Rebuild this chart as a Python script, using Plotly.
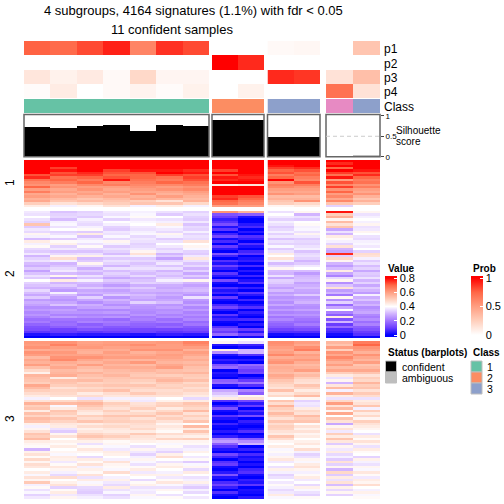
import plotly.graph_objects as go

# Annotation rows (11 samples)
p1 = [.76,.73,.82,.92,.62,.88,.82, 0,0, .03,.04, 0,.3]
p2 = [0,0,0,0,0,0,0, 1,.9, 0,0, 0,0]
p3 = [.13,.07,.11,.03,.2,.05,.05, 0,0, .9,.87, .15,.33]
p4 = [.02,.1,0,.03,.06,.02,.07, 0,.07, 0,0, .7,.15]
row_names = ["p1","p2","p3","p4"]
sample_class = [1,1,1,1,1,1,1, 2,2, 3,3, 4,3]
silhouette = [.74,.71,.76,.78,.64,.78,.76, .9,.9, .5,.5, 0,.06]
status = ["c"]*11 + ["a","a"]

# Signature values x100: one row per line, columns are the 13 sample positions
block1 = [
[80,80,80,80,80,80,80, 80,80, 80,80, 80,80],
[80,80,80,80,80,80,80, 80,80, 80,80, 76,80],
[80,80,80,80,80,80,80, 80,80, 78,80, 80,80],
[80,74,80,80,80,80,80, 80,80, 74,76, 70,80],
[80,78,80,74,78,78,76, 74,80, 70,72, 80,78],
[80,72,76,72,72,80,78, 80,80, 72,68, 74,72],
[72,74,74,70,70,74,72, 72,78, 66,70, 68,76],
[76,68,70,72,70,68,74, 78,76, 70,66, 78,70],
[68,70,66,78,68,66,72, 76,78, 80,64, 60,66],
[64,66,70,64,66,70,68, 80,80, 62,72, 72,68],
[62,60,64,66,64,64,66, 44,46, 66,66, 64,62],
[70,62,60,60,62,60,62, 80,80, 64,62, 74,66],
[60,58,62,58,60,62,64, 80,80, 60,60, 62,60],
[66,60,58,60,58,58,60, 80,80, 58,58, 70,58],
[58,56,60,56,62,56,58, 80,80, 62,60, 60,62],
[60,58,56,58,56,60,56, 74,72, 54,54, 64,56],
[56,54,52,54,58,55,54, 76,70, 56,56, 58,52],
[58,52,54,52,50,46,56, 70,66, 52,62, 64,56],
[50,46,48,50,52,52,48, 68,64, 50,48, 52,50],
[44,38,42,46,38,44,38, 60,60, 42,44, 34,40],
]
block2 = [
[37,32,34,37,38,36,34, 62,56, 36,42, 78,42],
[36,34,35,36,39,33,36, 14,16, 40,30, 50,36],
[40,35,33,39,41,40,34, 10,3, 37,36, 56,38],
[36,31,38,34,37,36,33, 5,0, 34,33, 42,40],
[34,38,36,40,39,38,37, 8,0, 38,40, 54,38],
[52,39,35,38,40,44,32, 13,4, 36,41, 46,42],
[33,36,38,34,37,39,35, 3,7, 33,38, 52,36],
[37,40,41,33,36,37,34, 9,0, 35,39, 28,37],
[35,34,33,37,38,35,38, 0,4, 38,36, 36,42],
[42,36,44,36,39,42,34, 6,0, 34,42, 30,40],
[38,39,32,39,35,38,36, 12,8, 37,37, 44,36],
[31,33,37,35,37,33,35, 2,5, 32,33, 41,35],
[44,41,39,42,36,36,46, 7,0, 36,35, 38,38],
[38,43,36,38,34,40,40, 0,8, 34,34, 34,39],
[41,34,41,33,35,37,42, 10,3, 39,36, 46,37],
[35,37,35,36,37,34,39, 4,0, 33,38, 30,40],
[33,32,32,34,42,36,34, 0,6, 36,32, 28,34],
[37,35,36,31,46,30,33, 14,9, 44,35, 76,47],
[30,42,43,37,38,33,37, 6,0, 40,36, 34,46],
[34,47,31,33,33,27,45, 0,3, 46,34, 48,38],
[36,38,33,36,35,34,36, 8,5, 38,30, 42,33],
[31,30,42,34,32,37,32, 3,0, 31,33, 30,36],
[29,32,35,30,34,32,35, 11,7, 35,37, 26,31],
[33,35,29,36,36,36,30, 5,0, 42,40, 31,34],
[27,37,33,31,33,30,34, 0,4, 31,31, 44,28],
[32,31,30,34,31,33,28, 9,0, 30,26, 28,33],
[36,42,36,32,35,31,33, 4,6, 36,30, 22,32],
[33,28,32,28,30,34,29, 0,0, 28,31, 35,36],
[40,44,38,33,32,38,42, 13,3, 34,32, 42,30],
[34,30,31,30,34,33,30, 2,8, 33,27, 24,34],
[32,33,29,26,29,29,27, 0,0, 30,29, 32,28],
[30,29,33,31,33,28,30, 8,5, 27,31, 46,33],
[35,26,28,27,30,30,31, 3,0, 31,28, 26,30],
[31,38,30,29,28,27,28, 6,9, 26,27, 30,26],
[28,31,26,33,31,29,25, 0,4, 29,33, 20,38],
[33,27,34,25,29,26,36, 10,0, 25,26, 42,29],
[26,25,28,30,27,28,26, 2,6, 27,28, 24,32],
[29,28,24,27,34,31,24, 0,0, 24,30, 34,27],
[27,32,29,24,26,25,28, 7,3, 28,25, 18,30],
[24,24,27,28,25,27,23, 12,8, 23,24, 28,24],
[26,27,23,23,24,24,26, 4,0, 26,27, 40,26],
[23,25,25,26,23,25,22, 0,5, 22,23, 22,28],
[25,22,22,22,25,22,24, 9,2, 25,25, 16,23],
[22,26,24,25,21,24,21, 3,0, 20,22, 44,21],
[19,20,20,18,22,19,23, 6,7, 23,20, 14,24],
[21,18,22,21,19,21,18, 1,0, 19,18, 30,19],
[17,19,16,19,17,16,20, 0,4, 17,21, 10,22],
[14,16,18,15,16,18,15, 8,0, 15,16, 18,16],
[13,11,14,13,12,12,13, 14,10, 11,13, 8,14],
[9,10,9,10,11,9,10, 10,4, 8,8, 6,10],
[3,5,4,4,3,5,4, 18,12, 2,3, 2,8],
[0,0,0,0,0,0,0, 0,2, 0,0, 0,1],
]
block3 = [
[61,62,59,60,60,61,65, 42,36, 63,60, 55,66],
[60,65,60,61,63,60,63, 4,6, 62,58, 52,70],
[62,60,61,59,60,60,60, 0,2, 60,63, 60,62],
[57,58,57,57,62,62,56, 44,30, 58,66, 50,60],
[62,61,56,60,56,58,60, 24,30, 60,56, 62,56],
[60,59,59,58,58,60,58, 3,8, 64,60, 58,62],
[54,62,62,60,60,59,55, 0,0, 57,58, 64,58],
[58,64,58,56,55,57,57, 5,4, 60,61, 60,55],
[56,57,55,58,61,55,54, 2,0, 62,57, 56,60],
[60,55,60,55,54,58,56, 14,18, 55,54, 60,52],
[53,58,54,57,57,60,53, 18,14, 57,56, 54,54],
[48,54,52,54,55,53,52, 0,10, 56,60, 58,58],
[43,55,56,53,52,54,55, 4,12, 54,52, 50,52],
[55,57,53,55,51,50,51, 2,0, 58,54, 44,46],
[53,44,51,52,53,53,50, 0,4, 56,50, 36,50],
[52,53,54,51,50,55,53, 16,10, 52,47, 42,48],
[50,52,49,50,48,51,48, 18,20, 50,46, 30,55],
[58,50,51,52,52,49,50, 3,8, 48,52, 45,50],
[54,46,48,49,49,50,47, 0,0, 46,49, 54,52],
[50,49,50,53,47,47,49, 28,22, 53,44, 38,46],
[47,48,44,47,51,48,46, 32,16, 45,48, 56,51],
[44,46,47,45,46,46,44, 36,42, 48,54, 44,47],
[38,40,36,38,38,40,35, 44,46, 40,42, 36,36],
[46,48,50,44,37,43,44, 8,12, 52,34, 48,44],
[56,54,55,50,46,49,52, 0,4, 47,37, 60,46],
[50,39,52,48,47,50,50, 5,10, 56,36, 46,52],
[52,44,49,46,50,44,48, 14,0, 50,44, 54,38],
[44,52,46,50,45,48,54, 2,7, 48,48, 42,50],
[53,50,44,47,48,52,46, 0,3, 54,46, 58,44],
[49,47,50,52,52,47,50, 9,13, 50,54, 40,48],
[54,52,47,49,46,50,47, 3,0, 46,50, 52,42],
[52,49,52,50,49,46,52, 0,5, 52,52, 46,50],
[43,45,44,46,47,42,40, 6,2, 47,41, 28,46],
[38,44,47,48,46,45,54, 1,0, 50,46, 42,44],
[42,36,43,45,48,43,44, 0,3, 49,43, 46,42],
[46,33,45,44,44,41,52, 4,8, 46,46, 37,40],
[52,42,49,47,51,47,46, 0,0, 44,42, 50,36],
[50,46,52,50,46,44,43, 5,2, 52,44, 44,44],
[54,40,47,46,45,49,50, 22,16, 47,40, 52,41],
[44,43,43,41,43,42,42, 26,24, 42,43, 45,46],
[42,41,36,42,40,39,41, 16,30, 40,45, 33,42],
[41,44,41,39,36,41,36, 8,0, 44,41, 42,36],
[30,40,45,37,42,37,38, 3,5, 39,47, 37,44],
[43,42,42,44,37,34,43, 0,0, 41,38, 44,41],
[46,39,40,43,34,43,40, 12,7, 38,34, 35,40],
[41,44,35,40,38,47,37, 6,2, 42,36, 38,34],
[48,43,44,38,42,40,41, 0,4, 45,42, 33,43],
[42,37,41,46,39,36,33, 8,0, 37,39, 46,38],
[47,41,46,42,36,42,39, 10,3, 40,44, 34,36],
[45,45,38,41,41,44,42, 2,0, 36,46, 42,42],
[40,42,43,39,44,40,35, 0,6, 43,42, 30,39],
[44,38,41,47,37,38,44, 4,8, 38,38, 48,45],
[39,35,46,40,43,43,40, 14,2, 34,41, 33,41],
[46,47,36,38,40,37,36, 3,0, 36,44, 44,37],
[42,40,44,43,35,41,38, 0,5, 40,37, 36,44],
[51,43,39,37,41,45,43, 7,3, 37,40, 46,42],
[38,46,42,35,43,39,36, 11,9, 41,35, 31,47],
[41,34,35,44,36,36,33, 5,0, 38,43, 43,40],
[36,41,34,36,38,42,38, 0,3, 35,39, 35,38],
[39,44,33,39,37,40,35, 8,2, 37,36, 42,43],
[34,37,36,34,42,36,40, 2,0, 44,34, 34,39],
[37,42,38,36,39,41,37, 0,4, 39,41, 40,41],
]

block_names = ["1","2","3"]
value_ticks = [0,.2,.4,.6,.8]
prob_ticks = [0,.5,1]
status_labels = ["confident","ambiguous"]
class_labels = ["1","2","3"]
class_colors = {1:"#66C2A5",2:"#FC8D62",3:"#8DA0CB",4:"#E78AC3"}
title_lines = ["4 subgroups, 4164 signatures (1.1%) with fdr < 0.05","11 confident samples"]

W = 504
FONT = "Liberation Sans"
def fx(px): return px/W
def fy(py): return 1-py/W

col_spans = [(24,209,0,7),(212,264,7,9),(267.5,320,9,11),(326,380,11,13)]
rows_spans = {"ann":(41,98),"cls":(99,113),"sil":(114.5,156.8),"b1":(160,207),"b2":(211,338),"b3":(341,499)}

v_lo,v_hi = -.028,.828
def vs(v): return (v-v_lo)/(v_hi-v_lo)
value_scale = [[0,"#0000FF"],[vs(0),"#0000FF"],[vs(.1),"#6A3CFF"],[vs(.2),"#A275FF"],[vs(.3),"#D2B4FF"],
               [vs(.4),"#FFFFFF"],[vs(.5),"#FFCFBC"],[vs(.6),"#FF9E81"],[vs(.7),"#FF6746"],[vs(.8),"#FF0000"],[1,"#FF0000"]]
p_lo,p_hi = -.035,1.035
def ps(v): return (v-p_lo)/(p_hi-p_lo)
prob_scale = [[0,"#FFFFFF"],[ps(0),"#FFFFFF"],[ps(.25),"#FFCFBC"],[ps(.5),"#FF9E81"],[ps(.75),"#FF6746"],[ps(1),"#FF0000"],[1,"#FF0000"]]
cs = sorted(class_colors)
class_scale = []
for i,k in enumerate(cs):
    class_scale += [[i/4,class_colors[k]],[(i+1)/4,class_colors[k]]]

fig = go.Figure()
ax = {}
xn = lambda i: "x" if i==0 else f"x{i+1}"
for i,(a,b,s,e) in enumerate(col_spans):
    key = "xaxis" if i==0 else f"xaxis{i+1}"
    ax[key] = dict(domain=[fx(a),fx(b)],range=[-.5,e-s-.5],visible=False,fixedrange=True)
yidx = {k:i+1 for i,k in enumerate(rows_spans)}
yn = lambda k: "y" if yidx[k]==1 else f"y{yidx[k]}"

def ydef(k,rng,**kw):
    key = "yaxis" if yidx[k]==1 else f"yaxis{yidx[k]}"
    a,b = rows_spans[k]
    ax[key] = dict(domain=[fy(b),fy(a)],range=rng,visible=False,fixedrange=True,**kw)

ydef("ann",[3.5,-.5]); ydef("cls",[.5,-.5])
for k,b in zip(["b1","b2","b3"],[block1,block2,block3]):
    ydef(k,[len(b)-.5,-.5])
ax[f"yaxis{yidx['sil']}"] = dict(domain=[fy(rows_spans["sil"][1]),fy(rows_spans["sil"][0])],range=[0,1.03],
    anchor=xn(3),side="right",tickvals=prob_ticks,ticktext=["0","0.5","1"],ticks="outside",ticklen=3,
    tickcolor="#444",tickfont=dict(family=FONT,size=8,color="#000"),showgrid=False,zeroline=False,showline=False,fixedrange=True)

ann_rows = [p1,p2,p3,p4]
first_value = True; first_prob = True
for i,(a,b,s,e) in enumerate(col_spans):
    z = [r[s:e] for r in ann_rows]
    t = dict(z=z,xaxis=xn(i),yaxis=yn("ann"),zmin=p_lo,zmax=p_hi,colorscale=prob_scale,hoverinfo="skip",xgap=0,ygap=0)
    if first_prob:
        t.update(showscale=True,colorbar=dict(x=fx(470.5),xanchor="left",y=fy(337),yanchor="bottom",len=61,lenmode="pixels",
            thickness=12,thicknessmode="pixels",outlinewidth=0,xpad=0,ypad=0,tickvals=prob_ticks,ticktext=["0","0.5","1"],
            ticks="inside",ticklen=3,tickcolor="#FFFFFF",tickfont=dict(family=FONT,size=11,color="#000")))
        first_prob = False
    else:
        t["showscale"] = False
    fig.add_trace(go.Heatmap(**t))
    fig.add_trace(go.Heatmap(z=[sample_class[s:e]],xaxis=xn(i),yaxis=yn("cls"),zmin=.5,zmax=4.5,colorscale=class_scale,showscale=False,hoverinfo="skip"))
    fig.add_trace(go.Bar(x=list(range(e-s)),y=silhouette[s:e],width=1,xaxis=xn(i),yaxis=yn("sil"),hoverinfo="skip",
        marker=dict(color=["#000000" if q=="c" else "#BEBEBE" for q in status[s:e]],line_width=0),showlegend=False))
    for k,blk in zip(["b1","b2","b3"],[block1,block2,block3]):
        t = dict(z=[[v/100 for v in r[s:e]] for r in blk],xaxis=xn(i),yaxis=yn(k),zmin=v_lo,zmax=v_hi,colorscale=value_scale,hoverinfo="skip")
        if first_value:
            t.update(showscale=True,colorbar=dict(x=fx(385),xanchor="left",y=fy(337),yanchor="bottom",len=61,lenmode="pixels",
                thickness=12,thicknessmode="pixels",outlinewidth=0,xpad=0,ypad=0,tickvals=value_ticks,ticktext=["0","0.2","0.4","0.6","0.8"],
                ticks="inside",ticklen=3,tickcolor="#FFFFFF",tickfont=dict(family=FONT,size=11,color="#000")))
            first_value = False
        else:
            t["showscale"] = False
        fig.add_trace(go.Heatmap(**t))

shapes = []
ysil = yn("sil")
for i in range(4):
    shapes.append(dict(type="rect",xref=f"{xn(i)} domain",yref=f"{ysil} domain",x0=0,x1=1,y0=0,y1=1,line=dict(color="#666666",width=1.5),fillcolor="rgba(0,0,0,0)"))
shapes.append(dict(type="line",xref=f"{xn(3)} domain",yref=ysil,x0=0,x1=1,y0=.5,y1=.5,line=dict(color="#CCCCCC",width=1,dash="4px,3px")))
swatch = lambda x0,y0,c: dict(type="rect",xref="paper",yref="paper",x0=fx(x0),x1=fx(x0+11),y0=fy(y0+11),y1=fy(y0),fillcolor=c,line=dict(color="#BEBEBE",width=1))
shapes += [swatch(385.5,361,"#000000"),swatch(385.5,372,"#BEBEBE")]
shapes += [swatch(471,361+11*i,class_colors[i+1]) for i in range(3)]

def txt(s,x,y,size=11,anchor="left",bold=False,angle=0):
    return dict(text=f"<b>{s}</b>" if bold else s,x=fx(x),y=fy(y),xref="paper",yref="paper",showarrow=False,xanchor=anchor,yanchor="middle",
                textangle=angle,font=dict(family=FONT,size=size,color="#000"))
ann = [txt(title_lines[0],193,10,13,"center"),txt(title_lines[1],172,29,13,"center")]
for i,n in enumerate(row_names):
    ann.append(txt(n,382,49.5+14*i,12))
ann.append(txt("Class",382,107,12))
ann += [txt("Silhouette",394,130.5,10),txt("score",394,141,10)]
ann += [txt(n,10,y,12,"center",angle=-90) for n,y in zip(block_names,[183,274,419])]
ann += [txt("Value",385.5,268,10,bold=True),txt("Prob",470.5,268,10,bold=True),
        txt("Status (barplots)",385.5,352,10,bold=True),txt("Class",470.5,352,10,bold=True)]
ann += [txt(s,400,367+11*i,10.5) for i,s in enumerate(status_labels)]
ann += [txt(s,485,367+11*i,10.5) for i,s in enumerate(class_labels)]

fig.update_layout(width=W,height=W,margin=dict(l=0,r=0,t=0,b=0,pad=0,autoexpand=False),paper_bgcolor="#FFFFFF",plot_bgcolor="#FFFFFF",
    showlegend=False,barmode="overlay",bargap=0,shapes=shapes,annotations=ann,**ax)
fig.write_html("out.html",config={"displayModeBar":False},
    post_script="document.documentElement.style.overflow='hidden';document.body.style.margin='0';document.body.style.padding='0';")
